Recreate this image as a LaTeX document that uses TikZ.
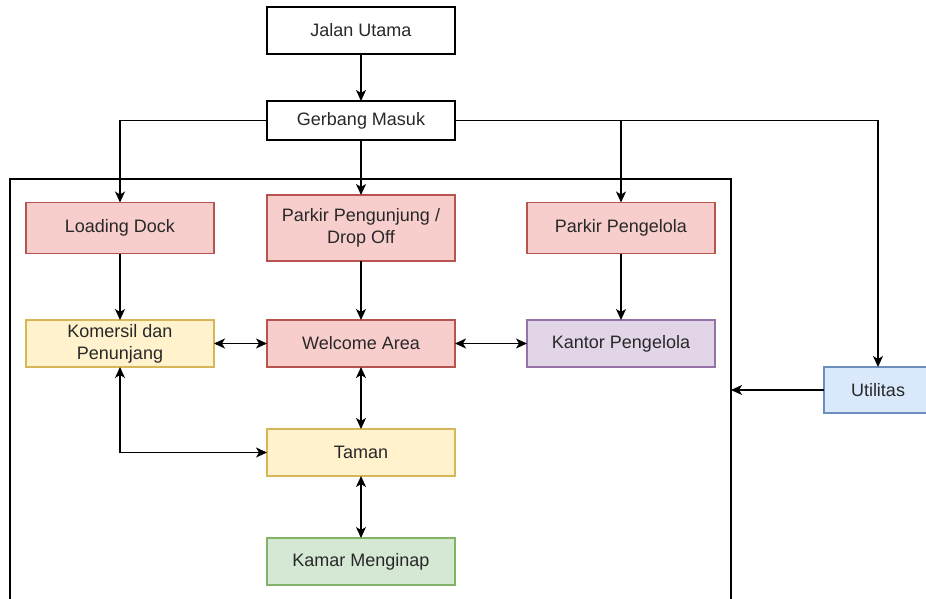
\documentclass[tikz,border=0pt]{standalone}
\usepackage{fontspec}
\setmainfont{Liberation Sans}
\usetikzlibrary{positioning, arrows.meta}
\definecolor{mytext}{RGB}{40, 40, 40}
\definecolor{redfill}{HTML}{F8CECC}
\definecolor{redline}{HTML}{B85450}
\definecolor{yellowfill}{HTML}{FFF2CC}
\definecolor{yellowline}{HTML}{D6B656}
\definecolor{greenfill}{HTML}{D5E8D4}
\definecolor{greenline}{HTML}{82B366}
\definecolor{purplefill}{HTML}{E1D5E7}
\definecolor{purpleline}{HTML}{9673A6}
\definecolor{bluefill}{HTML}{DAE8FC}
\definecolor{blueline}{HTML}{6C8EBF}

\begin{document}
\begin{tikzpicture}[x=1pt, y=1pt,
   every node/.style       = {font=\fontsize{18}{22}\selectfont, text=mytext},
    node distance            = 47pt and 53pt,
         plainNode/.style  = {rectangle, align=center, draw=black, fill=white, line width=1.3pt, minimum width=188pt, minimum height=47pt, inner sep=0pt, outer sep=0pt},
         redNode/.style    = {plainNode, draw=redline, fill=redfill, line width=1.1pt},
         yellowNode/.style = {plainNode, draw=yellowline, fill=yellowfill, line width=1.1pt},
         greenNode/.style  = {plainNode, draw=greenline, fill=greenfill, line width=1.1pt},
         purpleNode/.style = {plainNode, draw=purpleline, fill=purplefill, line width=1.1pt},
         blueNode/.style   = {plainNode, draw=blueline, fill=bluefill, line width=1.1pt, minimum width=108pt, minimum height=46pt},
         frameNode/.style  = {rectangle, draw=black, line width=1.3pt, inner sep=0pt, outer sep=0pt},
         myarrow/.style    = {-{Stealth[length=11pt, width=10pt, inset=3pt]}, line width=1.4pt},
         mybothway/.style  = {{Stealth[length=11pt, width=10pt, inset=3pt]}-{Stealth[length=11pt, width=10pt, inset=3pt]}, line width=1.4pt}
]
\useasboundingbox (0,0) rectangle (926,-599);
\clip (0,0) rectangle (926,-599);

\node[frameNode, minimum width=721pt, minimum height=441pt] (kawasan) at (370.5,-399.5) {};

\node[plainNode] (jalan) at (361,-30.5) {Jalan Utama};
\node[plainNode, minimum height=39pt, below=47pt of jalan] (gerbang) {Gerbang Masuk};

    \node[redNode, minimum height=66pt, below=55pt of gerbang] (pengunjung) {Parkir Pengunjung /\\Drop Off};
    \node[redNode, minimum height=51pt, left=53pt of pengunjung] (loading) {Loading Dock};
    \node[redNode, minimum height=51pt, right=72pt of pengunjung] (pengelola) {Parkir Pengelola};

    \node[redNode, below=59pt of pengunjung] (welcome) {Welcome Area};
    \node[yellowNode, left=53pt of welcome] (komersil) {Komersil dan\\Penunjang};
    \node[purpleNode, right=72pt of welcome] (kantor) {Kantor Pengelola};

    \node[yellowNode, below=62pt of welcome] (taman) {Taman};
    \node[greenNode, below=62pt of taman] (kamar) {Kamar Menginap};

\node[blueNode, right=109pt of kantor, yshift=-46.5pt] (utilitas) {Utilitas};

\draw[myarrow] (jalan) -- (gerbang);
\draw[myarrow] (gerbang) -| (loading);
\draw[myarrow] (gerbang) -- (pengunjung);
\draw[myarrow] (gerbang) -| (pengelola);
\draw[myarrow] (gerbang) -| (utilitas);

    \draw[myarrow] (loading) -- (komersil);
    \draw[myarrow] (pengunjung) -- (welcome);
    \draw[myarrow] (pengelola) -- (kantor);

    \draw[mybothway] (komersil) -- (welcome);
    \draw[mybothway] (welcome) -- (kantor);
    \draw[mybothway] (welcome) -- (taman);
    \draw[mybothway] (komersil) |- (taman);
    \draw[mybothway] (taman) -- (kamar);

\draw[myarrow] (utilitas) -- (utilitas -| kawasan.east);

\end{tikzpicture}
\end{document}
